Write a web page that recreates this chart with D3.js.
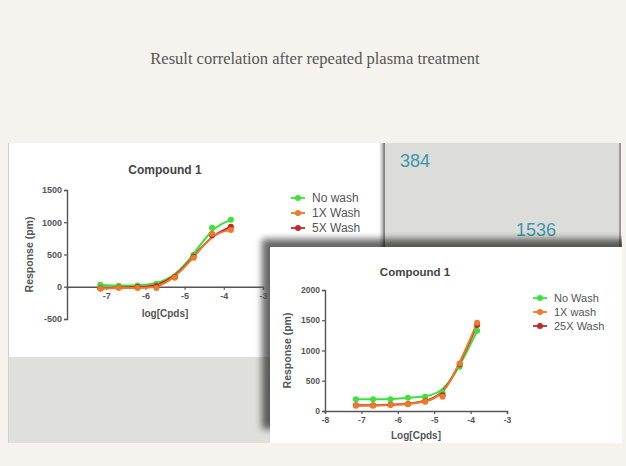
<!DOCTYPE html>
<html><head><meta charset="utf-8">
<script src="https://cdn.jsdelivr.net/npm/d3@7"></script>
<style>
html,body{margin:0;padding:0;background:#f6f3ee;}
svg{display:block;}
</style></head>
<body>
<script>
// ---- data ----
const slideTitle = "Result correlation after repeated plasma treatment";
const logDose = [-7.15, -6.68, -6.2, -5.72, -5.25, -4.77, -4.3, -3.82];

const c1Series = ["No wash", "1X Wash", "5X Wash"];
const c1NoWash = [30, 15, 20, 45, 160, 495, 913, 1037];
const c1Wash1X = [-30, -15, -20, -20, 140, 450, 820, 880];
const c1Wash5X = [-25, -10, -5, 10, 150, 470, 800, 930];
const c1YTicks = [-500, 0, 500, 1000, 1500];
const c1XTicks = [-7, -6, -5, -4, -3];

const c2Series = ["No Wash", "1X wash", "25X Wash"];
const c2NoWash = [193, 193, 193, 220, 236, 302, 731, 1325];
const c2Wash1X = [88, 88, 99, 110, 154, 236, 787, 1457];
const c2Wash25X = [95, 95, 105, 115, 160, 260, 770, 1420];
const c2YTicks = [0, 500, 1000, 1500, 2000];
const c2XTicks = [-8, -7, -6, -5, -4, -3];

const seriesColors = ["#3ee03a", "#f0782a", "#c4262e"];
const sideNumbers = ["384", "1536"];

const W = 626, H = 466;
const svg = d3.select("body").append("svg").attr("width", W).attr("height", H);
const defs = svg.append("defs");
const blur = defs.append("filter").attr("id", "sh").attr("x", "-10%").attr("y", "-10%").attr("width", "120%").attr("height", "120%");
blur.append("feGaussianBlur").attr("stdDeviation", 3.5);
const lg = defs.append("linearGradient").attr("id", "lshadow").attr("x1", 0).attr("x2", 1);
lg.append("stop").attr("offset", 0).attr("stop-color", "#000").attr("stop-opacity", 0);
lg.append("stop").attr("offset", 1).attr("stop-color", "#000").attr("stop-opacity", 0.45);
defs.append("clipPath").attr("id", "shclip").append("rect")
  .attr("x", 200).attr("y", 200).attr("width", 422).attr("height", 243);

// background
svg.append("rect").attr("width", W).attr("height", H).attr("fill", "#f6f3ee");
svg.append("text").attr("x", 315).attr("y", 64).attr("text-anchor", "middle")
  .attr("font-family", "Liberation Serif, serif").attr("font-size", 16.5).attr("fill", "#555")
  .text(slideTitle);

// left white panel
svg.append("rect").attr("x", 8).attr("y", 143).attr("width", 376).attr("height", 214).attr("fill", "#fff");
svg.append("line").attr("x1", 8.5).attr("x2", 8.5).attr("y1", 143).attr("y2", 443).attr("stroke", "#cfcfcf");
// gray box top right
svg.append("rect").attr("x", 383).attr("y", 143).attr("width", 237).attr("height", 104).attr("fill", "#dcdcd9");
svg.append("rect").attr("x", 379).attr("y", 143).attr("width", 6).attr("height", 104).attr("fill", "url(#lshadow)");
svg.append("rect").attr("x", 619).attr("y", 143).attr("width", 2).attr("height", 104).attr("fill", "#9a9a98");
svg.selectAll("text.side").data(sideNumbers).join("text")
  .attr("x", (d, i) => i === 0 ? 400 : 516).attr("y", (d, i) => i === 0 ? 167 : 236)
  .attr("font-family", "Liberation Sans, Arial, sans-serif").attr("font-size", 18)
  .attr("fill", "#3a98ab").text(d => d);
// gray bottom-left region
svg.append("rect").attr("x", 9).attr("y", 357).attr("width", 262).attr("height", 86).attr("fill", "#dfdfdb");

// right panel shadow (top + left) + panel
svg.append("g").attr("clip-path", "url(#shclip)").append("rect")
  .attr("x", 262).attr("y", 239).attr("width", 380).attr("height", 190)
  .attr("fill", "#000").attr("opacity", 0.6).attr("filter", "url(#sh)");
svg.append("rect").attr("x", 270).attr("y", 247).attr("width", 352).attr("height", 196).attr("fill", "#fff");

function drawChart(cfg) {
  const g = svg.append("g");
  const x = d3.scaleLinear().domain([-8, -3]).range(cfg.xr);
  const y = d3.scaleLinear().domain(cfg.yd).range(cfg.yr);
  const font = "Liberation Sans, Arial, sans-serif";
  const fmt = d => String(d);
  // title
  g.append("text").attr("x", cfg.titleX).attr("y", cfg.titleY).attr("text-anchor", "middle")
    .attr("font-family", font).attr("font-weight", "bold").attr("font-size", cfg.titleSize).attr("fill", "#444")
    .text("Compound 1");
  // y axis
  const ya = g.append("g").attr("transform", `translate(${cfg.xr[0]},0)`)
    .call(d3.axisLeft(y).tickValues(cfg.yTicks).tickFormat(fmt).tickSize(3).tickPadding(2));
  // x axis at y=0
  const xa = g.append("g").attr("transform", `translate(0,${y(0)})`)
    .call(d3.axisBottom(x).tickValues(cfg.xTicks).tickFormat(fmt).tickSize(3).tickPadding(3));
  [ya, xa].forEach(a => {
    a.select(".domain").attr("stroke", "#555").attr("stroke-width", 1.4);
    a.selectAll(".tick line").attr("stroke", "#555").attr("stroke-width", 1.2);
    a.selectAll(".tick text").attr("font-family", font).attr("font-weight", "bold")
      .attr("font-size", cfg.tickSize).attr("fill", "#555");
  });
  g.append("text").attr("x", d3.mean(cfg.xr)).attr("y", cfg.xLabelY).attr("text-anchor", "middle")
    .attr("font-family", font).attr("font-weight", "bold").attr("font-size", 10).attr("fill", "#555")
    .text(cfg.xLabel);
  g.append("text").attr("transform", `translate(${cfg.yLabelX},${d3.mean(cfg.yr)}) rotate(-90)`)
    .attr("text-anchor", "middle").attr("font-family", font).attr("font-weight", "bold")
    .attr("font-size", 10.5).attr("fill", "#555").text("Response (pm)");
  // lines
  const line = d3.line().x((d, i) => x(logDose[i])).y(d => y(d)).curve(d3.curveBasis);
  const order = [0, 2, 1];
  order.forEach(k => {
    g.append("path").datum(cfg.series[k]).attr("d", line).attr("fill", "none")
      .attr("stroke", seriesColors[k]).attr("stroke-width", 2);
  });
  order.forEach(k => {
    g.selectAll(null).data(cfg.series[k]).join("circle")
      .attr("cx", (d, i) => x(logDose[i])).attr("cy", d => y(d)).attr("r", 3)
      .attr("fill", seriesColors[k]);
  });
  // legend
  const leg = g.append("g");
  cfg.names.forEach((n, k) => {
    const yy = cfg.legY[k];
    leg.append("line").attr("x1", cfg.legX - 7).attr("x2", cfg.legX + 7).attr("y1", yy).attr("y2", yy)
      .attr("stroke", seriesColors[k]).attr("stroke-width", 1.8);
    leg.append("circle").attr("cx", cfg.legX).attr("cy", yy).attr("r", 3).attr("fill", seriesColors[k]);
    leg.append("text").attr("x", cfg.legX + 14).attr("y", yy + 4).attr("font-family", font)
      .attr("font-size", cfg.legSize).attr("fill", "#555").text(n);
  });
}

drawChart({
  xr: [67, 263], yd: [-500, 1500], yr: [319, 190], yTicks: c1YTicks, xTicks: c1XTicks,
  titleX: 165, titleY: 174, titleSize: 12, tickSize: 9, legSize: 12,
  xLabel: "log[Cpds]", xLabelY: 317, yLabelX: 33,
  series: [c1NoWash, c1Wash1X, c1Wash5X], names: c1Series, legX: 298, legY: [198, 213, 228]
});
drawChart({
  xr: [325, 507], yd: [0, 2000], yr: [411, 290], yTicks: c2YTicks, xTicks: c2XTicks,
  titleX: 415, titleY: 276, titleSize: 11.5, tickSize: 8.5, legSize: 11,
  xLabel: "Log[Cpds]", xLabelY: 439, yLabelX: 291,
  series: [c2NoWash, c2Wash1X, c2Wash25X], names: c2Series, legX: 540, legY: [298, 312, 326]
});
</script>
</body></html>
